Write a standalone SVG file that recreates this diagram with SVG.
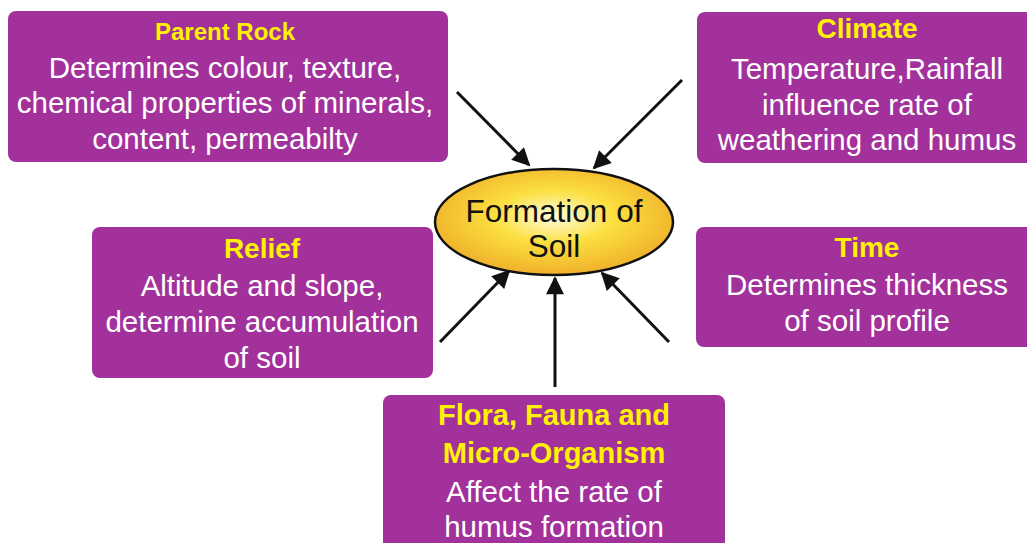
<svg xmlns="http://www.w3.org/2000/svg" width="1027" height="543" viewBox="0 0 1027 543">
<defs>
<radialGradient id="eg" cx="50%" cy="45%" r="55%">
<stop offset="0" stop-color="#fffbe0"/>
<stop offset="0.45" stop-color="#fbe040"/>
<stop offset="1" stop-color="#f0b02a"/>
</radialGradient>
<marker id="ah" viewBox="0 0 10 10" refX="9" refY="5" markerWidth="6.5" markerHeight="6" orient="auto" markerUnits="strokeWidth">
<path d="M0,0 L10,5 L0,10 z" fill="#111"/>
</marker>
<style>
.box{fill:#a2319b;}
.t{font-family:"Liberation Sans",Arial,sans-serif;font-weight:bold;fill:#fff200;text-anchor:middle;font-size:28px;}
.b{font-family:"Liberation Sans",Arial,sans-serif;fill:#fff;text-anchor:middle;font-size:29.5px;}
.c{font-family:"Liberation Sans",Arial,sans-serif;fill:#111;text-anchor:middle;font-size:31.5px;}
.ar{stroke:#111;stroke-width:3;fill:none;marker-end:url(#ah);}
</style>
</defs>
<rect width="1027" height="543" fill="#fff"/>
<g id="parent-rock">
<rect class="box" x="8" y="11" width="440" height="151" rx="8"/>
<text class="t" x="225" y="40" style="font-size:24px">Parent Rock</text>
<text class="b" x="225" y="78">Determines colour, texture,</text>
<text class="b" x="225" y="113">chemical properties of minerals,</text>
<text class="b" x="225" y="149">content, permeabilty</text>
</g>
<g id="climate">
<rect class="box" x="697" y="12" width="340" height="151" rx="8"/>
<text class="t" x="867" y="38">Climate</text>
<text class="b" x="867" y="79">Temperature,Rainfall</text>
<text class="b" x="867" y="115">influence rate of</text>
<text class="b" x="867" y="150">weathering and humus</text>
</g>
<g id="relief">
<rect class="box" x="92" y="227" width="341" height="151" rx="8"/>
<text class="t" x="262" y="258">Relief</text>
<text class="b" x="262" y="296">Altitude and slope,</text>
<text class="b" x="262" y="332">determine accumulation</text>
<text class="b" x="262" y="368">of soil</text>
</g>
<g id="time">
<rect class="box" x="696" y="227" width="341" height="120" rx="8"/>
<text class="t" x="867" y="257">Time</text>
<text class="b" x="867" y="295">Determines thickness</text>
<text class="b" x="867" y="331">of soil profile</text>
</g>
<g id="flora">
<rect class="box" x="383" y="395" width="342" height="160" rx="8"/>
<text class="t" x="554" y="425" style="font-size:29px">Flora, Fauna and</text>
<text class="t" x="554" y="463" style="font-size:29px">Micro-Organism</text>
<text class="b" x="554" y="502">Affect the rate of</text>
<text class="b" x="554" y="537">humus formation</text>
</g>
<g id="formation-of-soil">
<ellipse cx="554" cy="222" rx="119" ry="53" fill="url(#eg)" stroke="#111" stroke-width="2.5"/>
<text class="c" x="554" y="222">Formation of</text>
<text class="c" x="554" y="257">Soil</text>
</g>
<g id="connectors">
<line class="ar" x1="457" y1="92" x2="529" y2="165"/>
<line class="ar" x1="682" y1="80" x2="594" y2="168"/>
<line class="ar" x1="440" y1="342" x2="509" y2="271"/>
<line class="ar" x1="555" y1="387" x2="555" y2="278"/>
<line class="ar" x1="669" y1="342" x2="602" y2="273"/>
</g>
</svg>
